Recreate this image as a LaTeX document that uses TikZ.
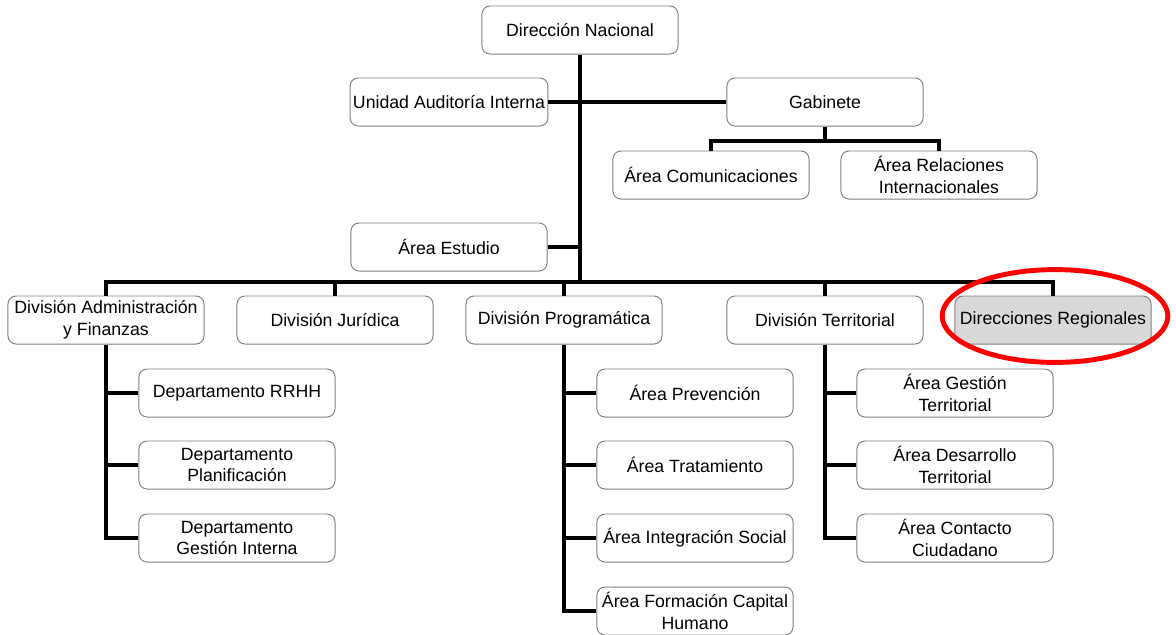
\documentclass[tikz,border=0pt]{standalone}
\usepackage{fontspec}
\setmainfont{Liberation Sans}
\begin{document}
\begin{tikzpicture}[
        x=0.025cm, y=-0.025cm,
        box/.style={rectangle,rounded corners=0.2cm,draw=black!50,line width=0.7pt,fill=white,
            minimum width=4.9cm,minimum height=1.2cm,align=center,inner sep=2pt,
            font=\fontsize{12.6}{15.6}\selectfont},
        shaded/.style={fill=black!15},
        link/.style={line width=3pt}
        ]
        \useasboundingbox (0,0) rectangle (1176,634);
        % top level
        \node (dn) [box] at (580,30) {Dirección Nacional};
        \node (uai) [box] at (449,102) {Unidad Auditoría Interna};
        \node (gab) [box] at (825,102) {Gabinete};
        \node (com) [box] at (711,175) {Área Comunicaciones};
        \node (rel) [box] at (939,175) {Área Relaciones\\Internacionales};
        \node (est) [box] at (449,247) {Área Estudio};
        \coordinate (trunk) at (580,282);
        \coordinate (gabj) at (825,141);
        % divisions
        \node (adm) [box] at (106,320) {División Administración\\y Finanzas};
        \node (jur) [box] at (335,320) {División Jurídica};
        \node (prog) [box] at (564,320) {División Programática};
        \node (terr) [box] at (825,320) {División Territorial};
        \node (reg) [box,shaded] at (1053,320) {Direcciones Regionales};
        % departments and areas
        \node (rrhh) [box] at (237,393) {Departamento RRHH};
        \node (plan) [box] at (237,465) {Departamento\\Planificación};
        \node (gint) [box] at (237,538) {Departamento\\Gestión Interna};
        \node (prev) [box] at (695,393) {Área Prevención};
        \node (trat) [box] at (695,465) {Área Tratamiento};
        \node (integ) [box] at (695,538) {Área Integración Social};
        \node (form) [box] at (695,611) {Área Formación Capital\\Humano};
        \node (gter) [box] at (955,393) {Área Gestión\\Territorial};
        \node (dter) [box] at (955,465) {Área Desarrollo\\Territorial};
        \node (cciu) [box] at (955,538) {Área Contacto\\Ciudadano};
        % connectors
        \draw[link] (dn) -- (trunk);
        \draw[link] (uai) -- (gab);
        \draw[link] (gab) -- (gabj);
        \draw[link] (com.north) |- (gabj) -| (rel.north);
        \draw[link] (est.east) -- (est.east -| trunk);
        \draw[link] (adm.north) |- (trunk) -| (reg.north);
        \draw[link] (jur.north) -- (jur.north |- trunk);
        \draw[link] (prog.north) -- (prog.north |- trunk);
        \draw[link] (terr.north) -- (terr.north |- trunk);
        \foreach \n in {rrhh,plan,gint}
            \draw[link] (adm.south) |- (\n.west);
        \foreach \n in {prev,trat,integ,form}
            \draw[link] (prog.south) |- (\n.west);
        \foreach \n in {gter,dter,cciu}
            \draw[link] (terr.south) |- (\n.west);
        % highlight
        \draw[red,line width=3.5pt] (reg.center) ++(2,-4) ellipse [x radius=2.82cm,y radius=1.16cm];
\end{tikzpicture}
\end{document}
